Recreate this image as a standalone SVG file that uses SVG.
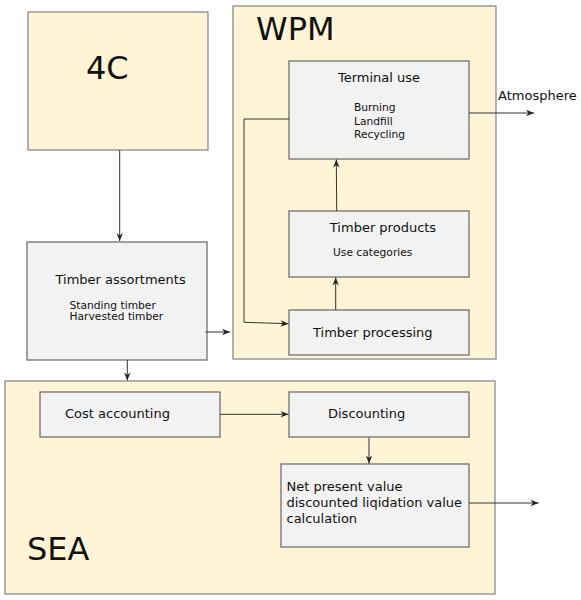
<svg xmlns="http://www.w3.org/2000/svg" width="581" height="600" viewBox="0 0 581 600">
<style>
.y{fill:#fff4d6;stroke:#808080;stroke-width:1.2}
.g{fill:#f2f2f2;stroke:#666;stroke-width:1.2}
text{font-family:"DejaVu Sans",sans-serif;fill:#111}
.big{font-size:32px}
.m{font-size:13px}
.s{font-size:10.7px}
.c{fill:none;stroke:#333;stroke-width:1}
</style>
<defs>
<marker id="ah" markerUnits="userSpaceOnUse" markerWidth="12" markerHeight="10" viewBox="-9 -5 10 10" refX="0" refY="0" orient="auto">
<path d="M0,0 L-8,-3.2 L-5.5,0 L-8,3.2 Z" fill="#222"/>
</marker>
</defs>
<g id="n4c"><rect class="y" x="28" y="12" width="180" height="138"/><text class="big" x="86" y="79">4C</text></g>
<g id="wpm"><rect class="y" x="233" y="6" width="263" height="353"/><text class="big" x="256" y="40">WPM</text></g>
<g id="sea"><rect class="y" x="5" y="381" width="490" height="213"/><text class="big" x="27" y="560">SEA</text></g>
<g id="terminal"><rect class="g" x="289" y="61" width="180" height="98"/><text class="m" x="379" y="82" text-anchor="middle">Terminal use</text><text class="s" x="354" y="111">Burning</text><text class="s" x="354" y="124.5">Landfill</text><text class="s" x="354" y="138">Recycling</text></g>
<g id="products"><rect class="g" x="289" y="211" width="180" height="66"/><text class="m" x="383" y="231.5" text-anchor="middle">Timber products</text><text class="s" x="333" y="256">Use categories</text></g>
<g id="processing"><rect class="g" x="289" y="310" width="180" height="45"/><text class="m" x="313" y="337">Timber processing</text></g>
<g id="assort"><rect class="g" x="27" y="242" width="180" height="118"/><text class="m" x="55.5" y="284">Timber assortments</text><text class="s" x="69.5" y="309">Standing timber</text><text class="s" x="69.5" y="320.3">Harvested timber</text></g>
<g id="cost"><rect class="g" x="40" y="392" width="180" height="45"/><text class="m" x="65" y="418">Cost accounting</text></g>
<g id="disc"><rect class="g" x="289" y="392" width="180" height="45"/><text class="m" x="328" y="418">Discounting</text></g>
<g id="npv"><rect class="g" x="281" y="464" width="188" height="83"/><text class="m" x="286.5" y="490.5">Net present value</text><text class="m" x="286.5" y="506.5">discounted liqidation value</text><text class="m" x="286.5" y="522.5">calculation</text></g>
<g id="atm"><text class="m" x="498" y="100">Atmosphere</text></g>
<g id="connectors">
<path class="c" d="M119.7,150 V241" marker-end="url(#ah)"/>
<path class="c" d="M127.3,360 V380.5" marker-end="url(#ah)"/>
<path class="c" d="M205.5,332 H230" marker-end="url(#ah)"/>
<path class="c" d="M289,119 H244 V322.3 L288.5,323.7" marker-end="url(#ah)"/>
<path class="c" d="M335.7,310 V277.5" marker-end="url(#ah)"/>
<path class="c" d="M336.7,211 L336.3,159.5" marker-end="url(#ah)"/>
<path class="c" d="M469,113 H534" marker-end="url(#ah)"/>
<path class="c" d="M220,414.3 H288.5" marker-end="url(#ah)"/>
<path class="c" d="M369,437.7 V463.5" marker-end="url(#ah)"/>
<path class="c" d="M469,503 H538.5" marker-end="url(#ah)"/>
</g>
</svg>
